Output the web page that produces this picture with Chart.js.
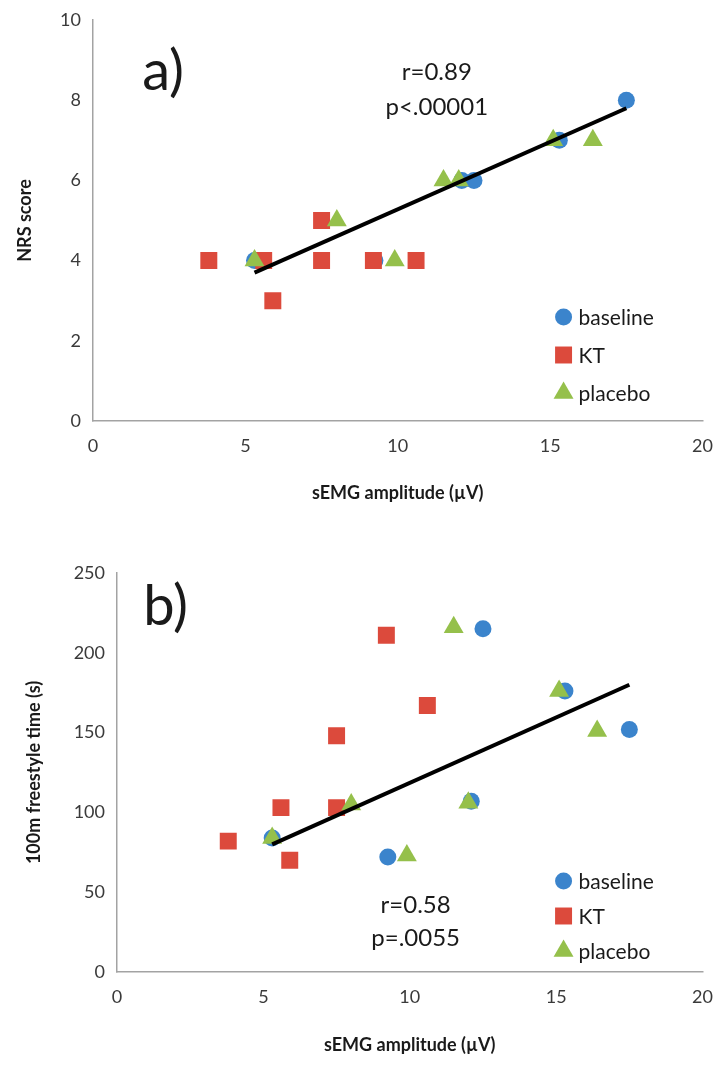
<!DOCTYPE html>
<html>
<head>
<meta charset="utf-8">
<script src="https://cdn.jsdelivr.net/npm/chart.js@4.4.0/dist/chart.umd.min.js"></script>
<style>
  body { margin: 0; background: #fff; }
  .box { position: absolute; left: 0; width: 721px; }
  #boxA { top: 0; height: 510px; }
  #boxB { top: 520px; height: 548px; }
</style>
</head>
<body>
<div class="box" id="boxA"><canvas id="chartA"></canvas></div>
<div class="box" id="boxB"><canvas id="chartB"></canvas></div>
<script>
// sEMG amplitude (uV) for each group - same in both panels
const baselineX = [5.3, 9.25, 12.1, 12.5, 15.3, 17.5];
const ktX = [3.8, 5.6, 5.9, 7.5, 7.5, 9.2, 10.6];
const placeboX = [5.3, 8.0, 9.9, 11.5, 12.0, 15.1, 16.4];

// panel a) NRS score
const baselineNRS = [4, 4, 6, 6, 7, 8];
const ktNRS = [4, 4, 3, 5, 4, 4, 4];
const placeboNRS = [4, 5, 4, 6, 6, 7, 7];
const trendA = [{x: 5.3, y: 3.7}, {x: 17.5, y: 7.8}];

// panel b) 100m freestyle time
const baselineTime = [84, 72, 107, 215, 176, 152];
const ktTime = [82, 103, 70, 148, 103, 211, 167];
const placeboTime = [84, 105, 73, 216, 106, 176, 151];
const trendB = [{x: 5.3, y: 80}, {x: 17.5, y: 180}];

const groupNames = ['baseline', 'KT', 'placebo'];
const groupColors = ['#3b84cc', '#dc4a3c', '#95c04b'];
const groupStyles = ['circle', 'rect', 'triangle'];
const groupSizes = [8.5, 12, 11.5];
const groupOrder = [3, 2, 1]; // placebo drawn on top, baseline at the back

const FONT = 'Lato, "Open Sans", sans-serif';

function pts(xs, ys) {
  return xs.map((x, i) => ({x: x, y: ys[i]}));
}

function makeSets(ys, trend) {
  const xs = [baselineX, ktX, placeboX];
  const sets = ys.map((arr, i) => ({
    label: groupNames[i],
    data: pts(xs[i], arr),
    order: groupOrder[i],
    pointStyle: groupStyles[i],
    pointRadius: groupSizes[i],
    backgroundColor: groupColors[i],
    borderColor: groupColors[i],
    borderWidth: 0
  }));
  sets.push({
    type: 'line',
    label: 'trend',
    data: trend,
    order: 0,
    borderColor: '#000',
    borderWidth: 4,
    pointRadius: 0,
    fill: false
  });
  return sets;
}

// legend inside the plot + text notes
const notesPlugin = {
  id: 'notes',
  afterDatasetsDraw(chart, args, opts) {
    const ctx = chart.ctx;
    const xs = chart.scales.x, ys = chart.scales.y;
    const area = chart.chartArea;
    ctx.save();
    ctx.textAlign = 'center';
    ctx.textBaseline = 'middle';
    opts.texts.forEach(t => {
      ctx.fillStyle = '#1a1a1a';
      ctx.font = t.size + 'px ' + FONT;
      ctx.fillText(t.text, xs.getPixelForValue(t.x), ys.getPixelForValue(t.y));
    });
    // legend
    ctx.textAlign = 'left';
    ctx.font = '21px ' + FONT;
    const lx = area.right - opts.legendRight;
    opts.legendRows.forEach((off, i) => {
      const ly = area.bottom - off;
      ctx.fillStyle = groupColors[i];
      Chart.helpers.drawPoint(ctx, {
        pointStyle: groupStyles[i], radius: groupSizes[i], borderWidth: 0
      }, lx, ly);
      ctx.fillStyle = '#1a1a1a';
      ctx.fillText(groupNames[i], lx + 15, ly + 1);
    });
    ctx.restore();
  }
};

function axisOpts(min, max, step, title, axW, axH, isX, titlePad) {
  return {
    type: 'linear',
    min: min, max: max,
    border: {color: '#a3a3a3', width: 1.5},
    grid: {display: false, drawOnChartArea: false, drawTicks: true, tickLength: 6, color: '#a3a3a3', lineWidth: 1.5},
    ticks: {stepSize: step, color: '#3a3a3a', font: {family: FONT, size: 18}, padding: isX ? 8 : 6},
    title: {display: true, text: title, color: '#1a1a1a', font: {family: FONT, size: 18, weight: 'bold'}, padding: titlePad},
    afterFit(scale) {
      if (isX) scale.height = axH; else scale.width = axW;
    }
  };
}

function build(id, ys, trend, yMax, yStep, yTitle, yAxW, xAxH, xTitlePad, pad, texts, legendRight, legendRows) {
  return new Chart(document.getElementById(id), {
    type: 'scatter',
    data: {datasets: makeSets(ys, trend)},
    options: {
      responsive: true,
      maintainAspectRatio: false,
      animation: false,
      layout: {padding: pad},
      plugins: {
        legend: {display: false},
        tooltip: {enabled: false},
        notes: {texts: texts, legendRight: legendRight, legendRows: legendRows}
      },
      scales: {
        x: axisOpts(0, 20, 5, 'sEMG amplitude (\u00b5V)', 0, xAxH, true, {top: 0, bottom: xTitlePad}),
        y: axisOpts(0, yMax, yStep, yTitle, yAxW, 0, false, {top: 0, bottom: 0})
      }
    },
    plugins: [notesPlugin]
  });
}

build('chartA', [baselineNRS, ktNRS, placeboNRS], trendA, 10, 2, 'NRS score', 79, 89, 6,
  {top: 20, right: 18, left: 14, bottom: 0},
  [{text: 'a)', x: 2.3, y: 8.7, size: 56},
   {text: 'r=0.89', x: 11.28, y: 8.7, size: 24},
   {text: 'p<.00001', x: 11.28, y: 7.83, size: 24}],
  139, [104, 66, 28]);

build('chartB', [baselineTime, ktTime, placeboTime], trendB, 250, 50, '100m freestyle time (s)', 94, 96, 12,
  {top: 53, right: 14, left: 23, bottom: 0},
  [{text: 'b)', x: 1.66, y: 229, size: 56},
   {text: 'r=0.58', x: 10.2, y: 42, size: 24},
   {text: 'p=.0055', x: 10.2, y: 21, size: 24}],
  139, [91, 56, 21]);
</script>
</body>
</html>
